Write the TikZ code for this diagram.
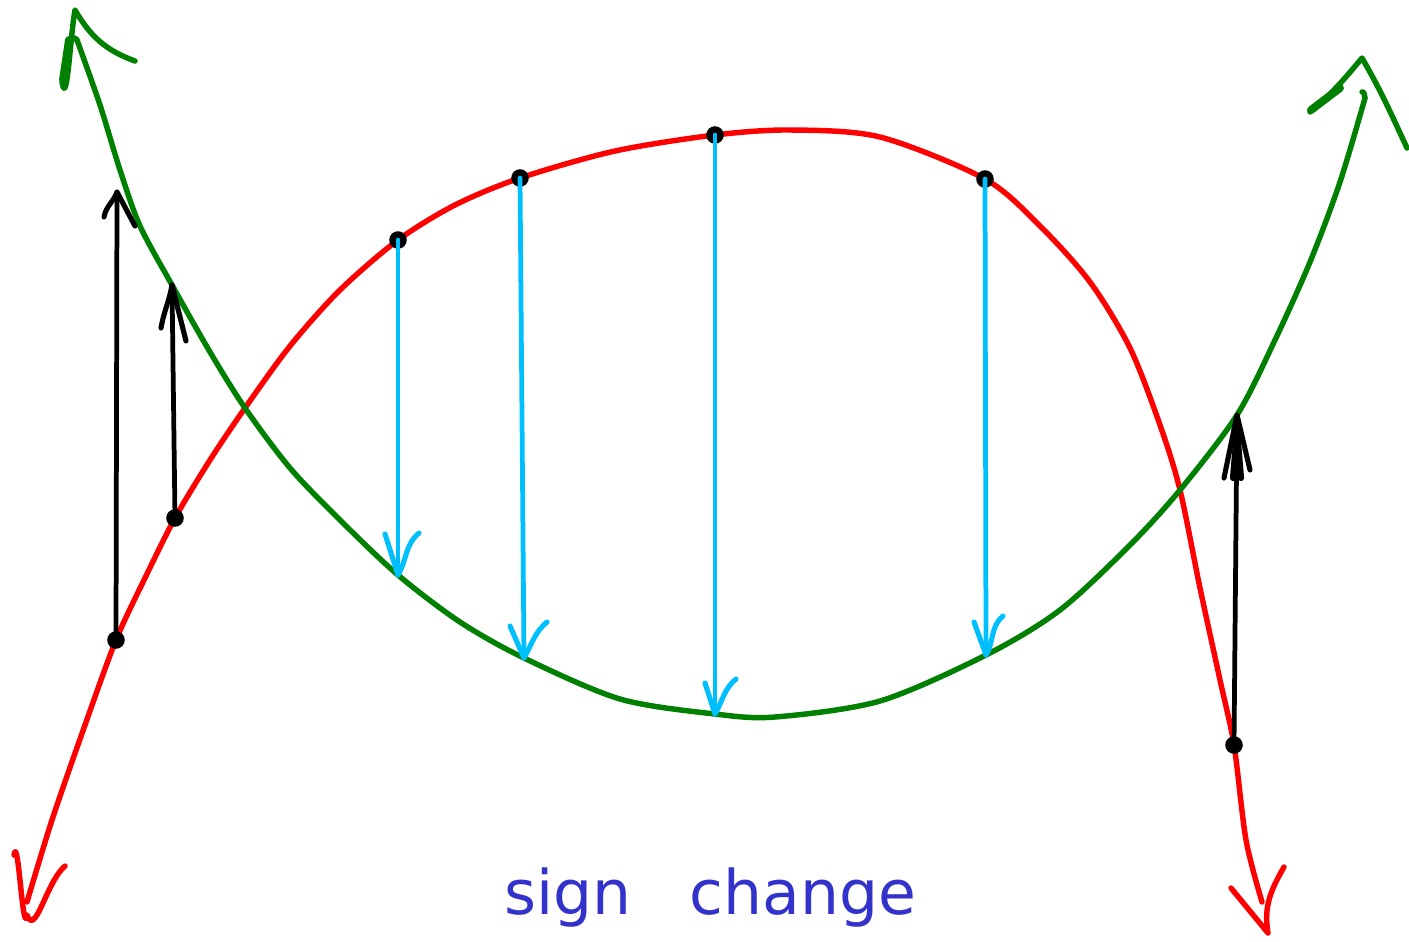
\documentclass[tikz,border=0pt]{standalone}
\usepackage{fontspec}
\newfontfamily\handfont{DejaVu Sans}
\definecolor{cred}{HTML}{FF0000}
\definecolor{cgreen}{HTML}{008000}
\definecolor{cblue}{HTML}{00BFFF}
\definecolor{ctext}{HTML}{3333CC}
\begin{document}
\begin{tikzpicture}[x=0.02cm,y=-0.02cm,
  curve/.style={line width=3.1pt,line cap=round,line join=round},
  head/.style={line width=3.1pt,line cap=round,line join=round},
  vec/.style={line width=2.7pt,line cap=round},
  vechead/.style={line width=2.9pt,line cap=round,line join=round},
  dot/.style={circle,fill=black,inner sep=0pt,minimum size=10pt}]
\useasboundingbox (0,0) rectangle (1409,941);
% named points on the red curve
\coordinate (rA) at (116,640);
\coordinate (rB) at (175,518);
\coordinate (rX1) at (245,408);
\coordinate (rC) at (398,240);
\coordinate (rD) at (520,178);
\coordinate (rE) at (715,135);
\coordinate (rF) at (985,179);
\coordinate (rX2) at (1180,490);
\coordinate (rG) at (1234,745);
% named points on the green curve
\coordinate (gA) at (117,192);
\coordinate (gB) at (172,285);
\coordinate (gC) at (398,575);
\coordinate (gD) at (524,658);
\coordinate (gE) at (715,714);
\coordinate (gF) at (986,655);
\coordinate (gG) at (1237,415);
\coordinate (gStart) at (77,40);
\coordinate (gEnd) at (1365,98);
% curves
\draw[curve,cred] plot[smooth,tension=0.5] coordinates {(27,902) (52,820) (85,725) (rA) (145,578) (rB) (210,460) (rX1) (290,346) (340,290) (rC) (455,205) (rD) (615,151) (rE) (790,130) (880,137) (rF) (1040,226) (1090,282) (1130,348) (1160,425) (rX2) (1200,588) (1220,680) (rG) (1246,840) (1262,902)};
\draw[curve,cgreen] plot[smooth,tension=0.5] coordinates {(gStart) (100,105) (120,170) (140,226) (gB) (210,352) (rX1) (290,468) (340,520) (gC) (460,622) (gD) (620,699) (gE) (775,717) (880,701) (gF) (1060,610) (1130,545) (rX2) (gG) (1275,340) (1310,262) (1340,182) (gEnd)};
\draw[curve,cgreen] (gStart) to[out=120,in=0] (73,38);
\draw[curve,cgreen] (gEnd) to[out=110,in=30] (1362,92);
% curve arrowheads
\coordinate (tipGL) at (75,10);
\coordinate (tipGR) at (1362,58);
\coordinate (tipRL) at (27,915);
\coordinate (tipRR) at (1268,933);
\draw[head,cgreen] (62,82) to[out=-80,in=260] (tipGL) to[out=-60,in=160] (135,61);
\draw[head,cgreen,line width=4.5pt] (63,80) -- (69,40);
\draw[head,cgreen] (1310,112) to[out=40,in=230] (tipGR) to[out=-60,in=115] (1407,148);
\draw[head,cgreen,line width=4.5pt] (1311,110) -- (1340,88);
\draw[head,cred] (14,855) to[out=80,in=260] (tipRL) to[out=-70,in=220] (65,866);
\draw[head,cred] (1231,888) -- (tipRR) to[out=100,in=240] (1284,867);
% dots
\foreach \p in {rA,rB,rC,rD,rE,rF,rG}
  \node[dot] (d\p) at (\p) {};
% black arrows
\draw[vec,black] (rA) -- (gA);
\draw[vechead,black] (104,217) to[out=80,in=250] (gA) -- (135,226);
\draw[vec,black] (rB) -- (gB);
\draw[vechead,black] (161,328) to[out=80,in=260] (gB) -- (186,341);
\draw[vec,black] (rG) -- (gG);
\draw[vechead,black] (1224,478) -- (gG) -- (1250,470);
\draw[vec,black,line width=3.5pt] (1233,478) -- (1237,430) -- (1241,478);
% blue arrows
\draw[vec,cblue] (rC) -- (gC);
\draw[vechead,cblue] (385,534) -- (gC) to[out=60,in=220] (419,533);
\draw[vec,cblue] (rD) -- (gD);
\draw[vechead,cblue] (510,626) -- (gD) to[out=60,in=220] (547,622);
\draw[vec,cblue] (rE) -- (gE);
\draw[vechead,cblue] (705,683) -- (gE) to[out=60,in=220] (736,679);
\draw[vec,cblue] (rF) -- (gF);
\draw[vechead,cblue] (974,622) -- (gF) to[out=60,in=220] (1003,616);
% label
\node[anchor=base west,inner sep=0pt,text=ctext,font=\handfont\fontsize{35}{41}\selectfont] (lbl) at (504,914) {sign\hspace{0.95em}change};
\end{tikzpicture}
\end{document}
